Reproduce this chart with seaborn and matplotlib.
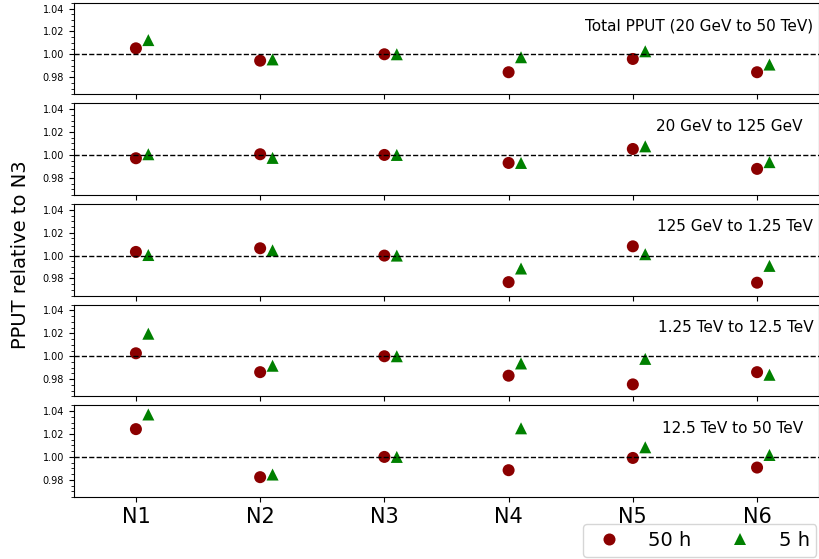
import pandas as pd
import matplotlib
matplotlib.use('Agg')
import matplotlib.pyplot as plt
import seaborn as sns
from matplotlib.ticker import MultipleLocator

# Dados
nodes = ['N1', 'N2', 'N3', 'N4', 'N5', 'N6']
panels = ['Total PPUT (20 GeV to 50 TeV)', '20 GeV to 125 GeV',
          '125 GeV to 1.25 TeV', '1.25 TeV to 12.5 TeV', '12.5 TeV to 50 TeV']

pput_50h = [
    [1.0052, 0.9944, 1.0000, 0.9843, 0.9959, 0.9843],
    [0.9971, 1.0006, 1.0000, 0.9930, 1.0052, 0.9878],
    [1.0032, 1.0064, 1.0000, 0.9768, 1.0081, 0.9763],
    [1.0026, 0.9861, 1.0000, 0.9830, 0.9754, 0.9861],
    [1.0243, 0.9823, 1.0000, 0.9884, 0.9991, 0.9907],
]
pput_5h = [
    [1.0124, 0.9955, 1.0000, 0.9974, 1.0026, 0.9910],
    [1.0006, 0.9974, 1.0000, 0.9930, 1.0075, 0.9937],
    [1.0005, 1.0046, 1.0000, 0.9887, 1.0012, 0.9910],
    [1.0197, 0.9917, 1.0000, 0.9937, 0.9977, 0.9838],
    [1.0371, 0.9846, 1.0000, 1.0250, 1.0084, 1.0017],
]

rows = []
for p, name in enumerate(panels):
    for i, n in enumerate(nodes):
        rows.append({'panel': name, 'x': i + 1, 'val': pput_50h[p][i], 'run': '50 h'})
        rows.append({'panel': name, 'x': i + 1.1, 'val': pput_5h[p][i], 'run': '5 h'})
df = pd.DataFrame(rows)

fig, axes = plt.subplots(5, 1, figsize=(8.2, 5.59), dpi=100, sharex=True)
fig.subplots_adjust(left=0.09, right=0.999, top=0.995, bottom=0.111, hspace=0.1)

# posição horizontal do texto de cada painel
text_x = [0.992, 0.978, 0.992, 0.992, 0.978]

for ax, name, tx in zip(axes, panels, text_x):
    sub = df[df['panel'] == name]
    sns.scatterplot(data=sub, x='x', y='val', hue='run', style='run',
                    palette={'50 h': 'darkred', '5 h': 'green'},
                    markers={'50 h': 'o', '5 h': '^'}, s=75, linewidth=0,
                    ax=ax, legend=(name == panels[-1]))
    ax.axhline(1.0, color='black', ls='--', lw=1)
    ax.set_ylim(0.965, 1.045)
    ax.set_xlim(0.5, 6.5)
    ax.yaxis.set_major_locator(MultipleLocator(0.02))
    ax.yaxis.set_minor_locator(MultipleLocator(0.005))
    ax.tick_params(axis='y', labelsize=7)
    ax.set_xlabel('')
    ax.set_ylabel('')
    ax.text(tx, 0.75, name, transform=ax.transAxes, ha='right', va='center', fontsize=11)

axes[-1].set_xticks(range(1, 7))
axes[-1].set_xticklabels(nodes, fontsize=15)

handles, labels = axes[-1].get_legend_handles_labels()
axes[-1].get_legend().remove()
fig.legend(handles, labels, ncol=2, loc='lower right', bbox_to_anchor=(0.998, 0.0),
           borderaxespad=0.1, fontsize=14, markerscale=1.0, columnspacing=1.5,
           handletextpad=1.0, borderpad=0.35)

fig.text(0.025, 0.545, 'PPUT relative to N3', rotation=90, ha='center', va='center', fontsize=14)

plt.savefig('out.png', dpi=100)
